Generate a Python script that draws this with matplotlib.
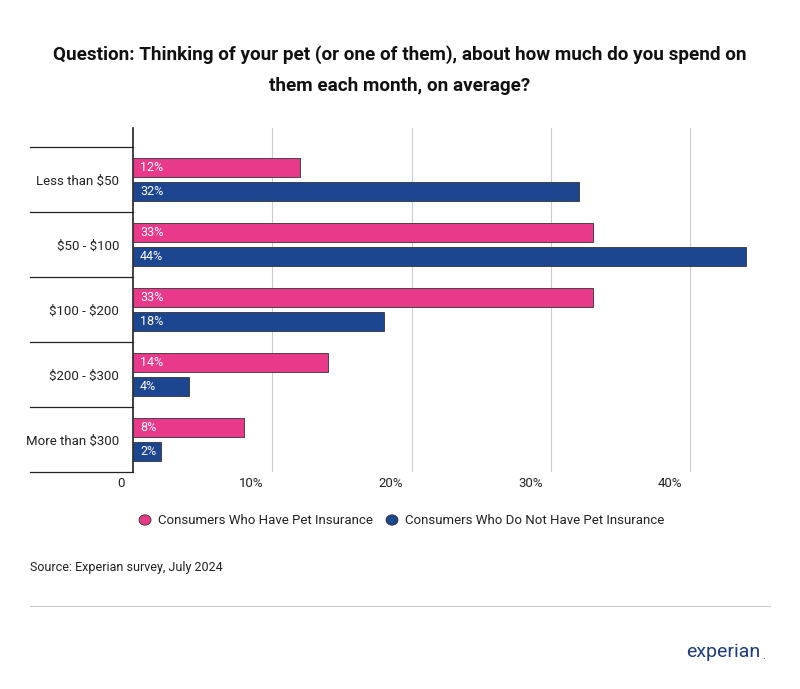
import matplotlib.pyplot as plt
import numpy as np

plt.rcParams['font.family'] = ['Roboto', 'DejaVu Sans']
plt.rcParams['text.parse_math'] = False

categories = ['Less than $50', '$50 - $100', '$100 - $200', '$200 - $300', 'More than $300']
have_ins = [12, 33, 33, 14, 8]
no_ins = [32, 44, 18, 4, 2]
xticks = [10, 20, 30, 40]
series_names = ['Consumers Who Have Pet Insurance', 'Consumers Who Do Not Have Pet Insurance']
colors = ['#e8398a', '#1d4690']

fig = plt.figure(figsize=(8, 6.89), dpi=100)
ax = fig.add_axes([133 / 800, 1 - 472 / 689, 627 / 800, 344 / 689])

y = np.arange(len(categories))
h = 0.29
off = 0.19
ax.barh(y - off, have_ins, height=h, color=colors[0], edgecolor='#333333', linewidth=0.6, zorder=3)
ax.barh(y + off, no_ins, height=h, color=colors[1], edgecolor='#333333', linewidth=0.6, zorder=3)
for i in range(len(categories)):
    ax.text(0.5, y[i] - off, '%d%%' % have_ins[i], color='white', va='center', fontsize=9, zorder=4)
    ax.text(0.5, y[i] + off, '%d%%' % no_ins[i], color='white', va='center', fontsize=9, zorder=4)

ax.set_xlim(0, 45)
ax.set_ylim(len(categories) - 0.5, -0.5 - 19 / 65)
ax.set_yticks(y)
ax.set_yticklabels(categories, fontsize=9.5, color='#222222')
ax.tick_params(axis='y', length=0, pad=10)
ax.set_xticks([])
for t in xticks:
    ax.axvline(t, color='#cccccc', linewidth=0.8, zorder=1)
    ax.text(t - 0.6, -0.015, '%d%%' % t, transform=ax.get_xaxis_transform(),
            ha='right', va='top', fontsize=9.5, color='#222222')
ax.text(-0.6, -0.015, '0', transform=ax.get_xaxis_transform(),
        ha='right', va='top', fontsize=9.5, color='#222222')
for s in ['top', 'right', 'bottom']:
    ax.spines[s].set_visible(False)
ax.spines['left'].set_color('#222222')
ax.spines['left'].set_linewidth(1.2)

# category separators on the left
for b in np.arange(-0.5, len(categories) + 0.5, 1):
    ax.plot([-103 / 627 * 45, 0], [b, b], color='#222222', linewidth=0.9, clip_on=False)

fig.text(0.5, 1 - 55 / 689, 'Question: Thinking of your pet (or one of them), about how much do you spend on',
         ha='center', va='center', fontsize=13.6, fontweight='bold', color='#111111')
fig.text(0.5, 1 - 86 / 689, 'them each month, on average?',
         ha='center', va='center', fontsize=13.6, fontweight='bold', color='#111111')

# legend
lx = [145, 392]
for i in range(2):
    fig.patches.append(plt.Circle((lx[i] / 800, 1 - 520 / 689), 0.0075, transform=fig.transFigure,
                                  facecolor=colors[i], edgecolor='#333333', linewidth=0.6))
    fig.text((lx[i] + 13) / 800, 1 - 520 / 689, series_names[i], va='center', fontsize=9.5, color='#222222')

fig.text(30 / 800, 1 - 567 / 689, 'Source: Experian survey, July 2024', va='center', fontsize=9, color='#222222')
fig.add_artist(plt.Line2D([30 / 800, 770 / 800], [1 - 606 / 689] * 2, color='#cccccc', linewidth=0.8))
fig.text(686 / 800, 1 - 652 / 689, 'experian', va='center', fontsize=14, color='#1d3c78')
fig.text(762 / 800, 1 - 656 / 689, '.', va='center', fontsize=8, color='#1d3c78')

fig.savefig('out.png', dpi=100, facecolor='white')
